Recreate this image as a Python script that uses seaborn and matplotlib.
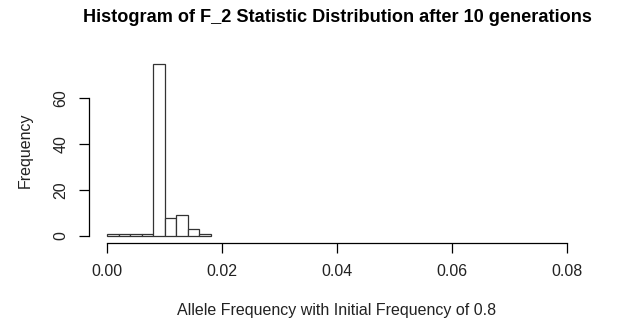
import numpy as np
import pandas as pd
import matplotlib
matplotlib.use("Agg")
import matplotlib.pyplot as plt
import seaborn as sns

# Data
bin_edges = [0.000, 0.002, 0.004, 0.006, 0.008, 0.010, 0.012, 0.014, 0.016, 0.018]
counts = [1, 1, 1, 1, 75, 8, 9, 3, 1]
x_ticks = [0.00, 0.02, 0.04, 0.06, 0.08]
x_tick_labels = ["0.00", "0.02", "0.04", "0.06", "0.08"]
y_ticks = [0, 20, 40, 60]
y_tick_labels = ["0", "20", "40", "60"]

title = "Histogram of F_2 Statistic Distribution after 10 generations"
xlabel = "Allele Frequency with Initial Frequency of 0.8"
ylabel = "Frequency"

sns.set_theme(style="white")
plt.rcParams["font.family"] = ["Liberation Sans", "DejaVu Sans"]

centers = [(bin_edges[i] + bin_edges[i + 1]) / 2 for i in range(len(counts))]
df = pd.DataFrame({"value": centers, "count": counts})

W, H = 617, 323
fig = plt.figure(figsize=(W / 100, H / 100), dpi=100)
left, right, top, bottom = 88.6, 585.4, 56.6, 242.9
ax = fig.add_axes([left / W, 1 - bottom / H, (right - left) / W, (bottom - top) / H])

sns.histplot(data=df, x="value", weights="count", bins=bin_edges, ax=ax,
             stat="count", color="white", alpha=1, edgecolor="#333333",
             linewidth=0.9)

ax.set_xlim(-0.0032, 0.0832)
ax.set_ylim(-3, 78)
ax.set_xticks(x_ticks)
ax.set_xticklabels(x_tick_labels)
ax.set_yticks(y_ticks)
ax.set_yticklabels(y_tick_labels, rotation=90, va="center")

ax.tick_params(axis="both", which="major", direction="out", length=6.9,
               width=0.9, color="black", labelsize=11.5, labelcolor="#222222",
               bottom=True, left=True)
ax.tick_params(axis="x", pad=8.5)
ax.tick_params(axis="y", pad=7.5)

for s in ["top", "right"]:
    ax.spines[s].set_visible(False)
for s in ["left", "bottom"]:
    ax.spines[s].set_color("black")
    ax.spines[s].set_linewidth(0.9)
sns.despine(ax=ax, trim=True)

ax.set_xlabel(xlabel, fontsize=11.5, color="#222222", va="center")
ax.xaxis.set_label_coords(0.5, (bottom - 310) / (bottom - top))
ax.set_ylabel(ylabel, fontsize=11.5, color="#222222", va="center")
ax.yaxis.set_label_coords((25.5 - left) / (right - left), 0.5)

ax.set_title(title, fontsize=13.1, fontweight="bold", color="black",
             y=(bottom - 18) / (bottom - top), va="center", pad=0)

ax.grid(False)
fig.savefig("out.png", dpi=100)
